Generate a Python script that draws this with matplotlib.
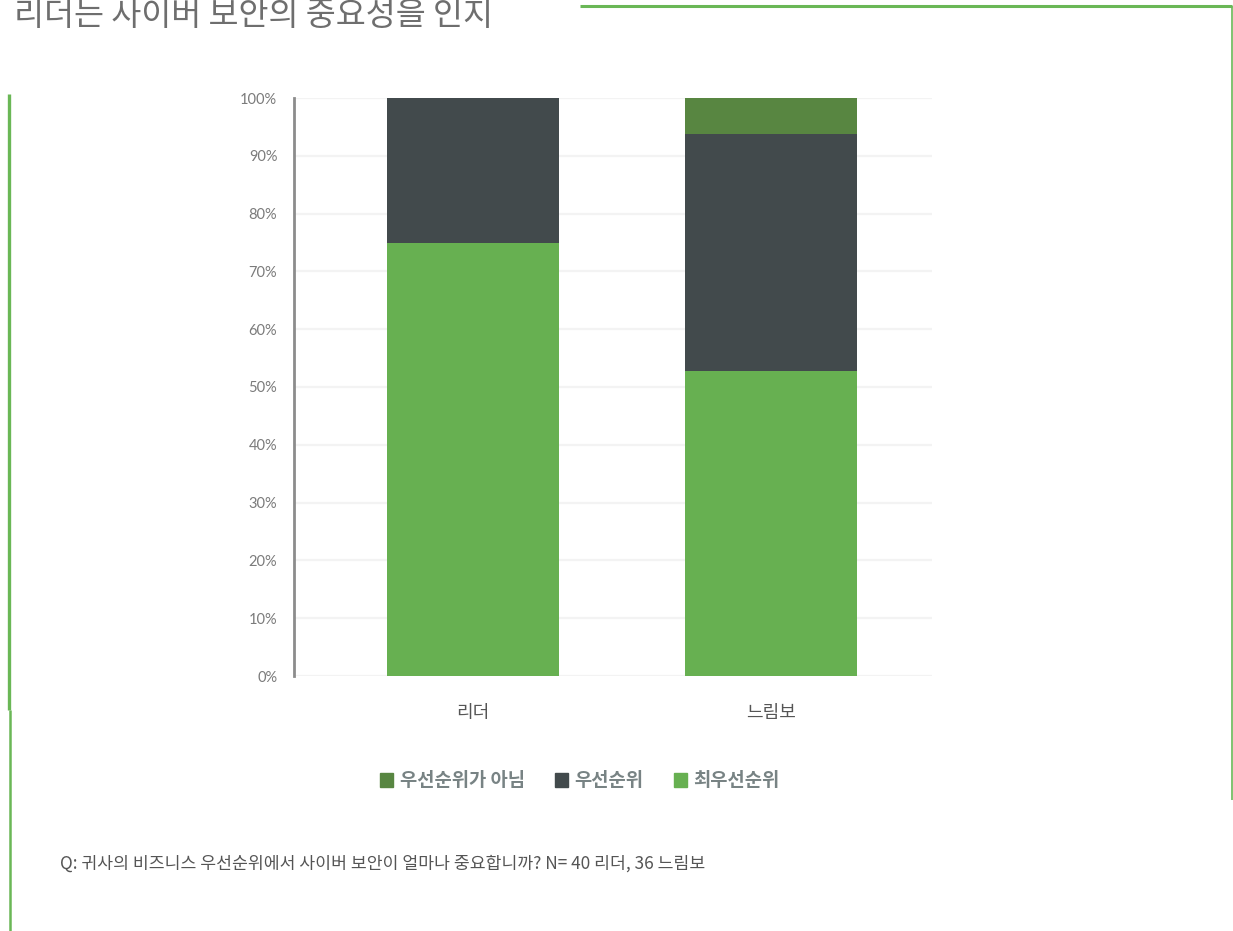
import matplotlib

matplotlib.use("Agg")

import matplotlib.pyplot as plt
import matplotlib.ticker as mtick
from matplotlib.lines import Line2D
from matplotlib.patches import Patch

plt.rcParams["font.family"] = ["Noto Sans CJK KR", "DejaVu Sans"]

# Survey answers, percent of respondents per group
GROUPS = ["리더", "느림보"]
SERIES = ["최우선순위", "우선순위", "우선순위가 아님"]
TOP_PRIORITY = [75.0, 52.8]
PRIORITY = [25.0, 40.9]
NOT_PRIORITY = [0.0, 6.3]
YTICKS = [0, 10, 20, 30, 40, 50, 60, 70, 80, 90, 100]

TITLE = "리더는 사이버 보안의 중요성을 인지"
NOTE = "Q: 귀사의 비즈니스 우선순위에서 사이버 보안이 얼마나 중요합니까? N= 40 리더, 36 느림보"

LIGHT_GREEN = "#67b051"
DARK_GREY = "#424a4c"
DARK_GREEN = "#588641"
FRAME_GREEN = "#6ab756"
TEXT_GREY = "#7b7b7b"

W, H = 1233, 931
fig = plt.figure(figsize=(W / 100, H / 100), dpi=100)
fig.patch.set_facecolor("white")


def px(x, y):
    """Pixel position (from top-left) to figure fraction."""
    return x / W, 1 - y / H


def frame_line(x0, y0, x1, y1, lw):
    (a, b), (c, d) = px(x0, y0), px(x1, y1)
    fig.add_artist(Line2D([a, c], [b, d], color=FRAME_GREEN, linewidth=lw,
                          solid_capstyle="butt", transform=fig.transFigure))


# decorative frame around the panel
frame_line(580, 6, 1232, 6, 2.2)
frame_line(1231.5, 6, 1231.5, 800, 1.2)
frame_line(9, 94, 9, 710, 2.4)
frame_line(9.5, 710, 9.5, 931, 1.8)

x0, y_top = px(294, 98)
x1, y_bot = px(932, 676)
ax = fig.add_axes([x0, y_bot, x1 - x0, y_top - y_bot])

pos = range(len(GROUPS))
width = 0.577
bottom2 = [a + b for a, b in zip(TOP_PRIORITY, PRIORITY)]
ax.bar(pos, TOP_PRIORITY, width, color=LIGHT_GREEN, zorder=2)
ax.bar(pos, PRIORITY, width, bottom=TOP_PRIORITY, color=DARK_GREY, zorder=2)
ax.bar(pos, NOT_PRIORITY, width, bottom=bottom2, color=DARK_GREEN, zorder=2)

ax.set_xlim(-0.60, 1.54)
ax.set_ylim(0, 100)
ax.set_yticks(YTICKS)
ax.yaxis.set_major_formatter(mtick.FuncFormatter(lambda v, _: f"{v:.0f}%"))
ax.set_xticks(list(pos))
ax.set_xticklabels(GROUPS)
ax.tick_params(axis="y", length=0, pad=12, labelsize=10.5, labelcolor=TEXT_GREY)
ax.tick_params(axis="x", length=0, pad=20, labelsize=13, labelcolor="#555555")
for lab in ax.get_yticklabels():
    lab.set_family(["Lato", "DejaVu Sans"])

ax.grid(axis="y", color="#f3f3f3", linewidth=1.6, zorder=0)
ax.set_axisbelow(True)
for side in ("top", "right", "bottom"):
    ax.spines[side].set_visible(False)
ax.spines["left"].set_color("#8c8c8c")
ax.spines["left"].set_linewidth(2)

handles = [Patch(color=DARK_GREEN, label=SERIES[2]),
           Patch(color=DARK_GREY, label=SERIES[1]),
           Patch(color=LIGHT_GREEN, label=SERIES[0])]
leg = fig.legend(handles=handles, loc="center", bbox_to_anchor=px(580, 781),
                 ncol=3, frameon=False, handlelength=0.7, handleheight=0.7,
                 handletextpad=0.35, columnspacing=1.6,
                 prop={"size": 13.5, "weight": "bold"})
for t in leg.get_texts():
    t.set_color("#788384")

tx, ty = px(14, 16)
fig.text(tx, ty, TITLE, fontsize=23.5, color="#6e6e6e", ha="left", va="center",
         fontweight="light")
nx, ny = px(60, 864)
fig.text(nx, ny, NOTE, fontsize=12.4, color="#555555", ha="left", va="center")

fig.savefig("out.png", dpi=100)
